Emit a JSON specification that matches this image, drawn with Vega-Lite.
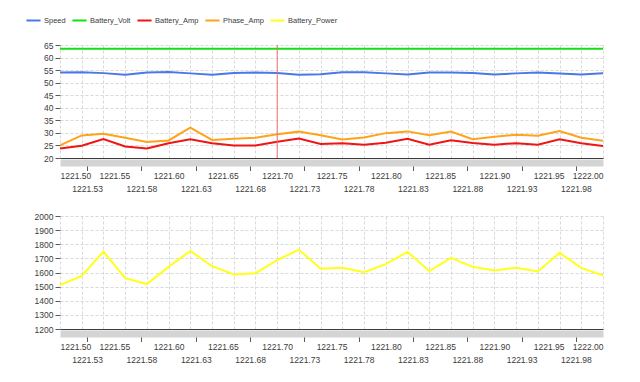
{
  "$schema": "https://vega.github.io/schema/vega-lite/v6.json",
  "padding": {"left": 25, "top": 12, "right": 5, "bottom": 5},
  "background": "white",
  "spacing": 19,
  "config": {
    "view": {"stroke": null},
    "font": "Liberation Sans",
    "axis": {"labelFont": "Liberation Sans", "labelFontSize": 8.5, "labelColor": "#3c3c3c", "title": null, "gridWidth": 1, "tickColor": "#5a5a5a", "domainColor": "#3c3c3c"},
    "legend": {"orient": "none", "legendX": -35, "legendY": -33, "direction": "horizontal", "columns": 5, "gridAlign": "none", "symbolType": "stroke", "symbolSize": 200, "symbolStrokeWidth": 2, "labelFont": "Liberation Sans", "labelFontSize": 7.5, "labelColor": "#3c3c3c", "columnPadding": 2, "labelOffset": 2, "title": null}
  },
  "datasets": {
    "d": [
      {"t": 1221.50, "Speed": 54.0, "Battery_Volt": 63.5, "Battery_Amp": 23.8, "Phase_Amp": 25.0, "Battery_Power": 1511},
      {"t": 1221.52, "Speed": 54.1, "Battery_Volt": 63.5, "Battery_Amp": 24.9, "Phase_Amp": 29.0, "Battery_Power": 1576},
      {"t": 1221.54, "Speed": 53.8, "Battery_Volt": 63.5, "Battery_Amp": 27.5, "Phase_Amp": 29.7, "Battery_Power": 1748},
      {"t": 1221.56, "Speed": 53.2, "Battery_Volt": 63.5, "Battery_Amp": 24.6, "Phase_Amp": 28.1, "Battery_Power": 1560},
      {"t": 1221.58, "Speed": 54.0, "Battery_Volt": 63.5, "Battery_Amp": 23.8, "Phase_Amp": 26.4, "Battery_Power": 1518},
      {"t": 1221.60, "Speed": 54.2, "Battery_Volt": 63.5, "Battery_Amp": 25.9, "Phase_Amp": 27.0, "Battery_Power": 1640},
      {"t": 1221.62, "Speed": 53.7, "Battery_Volt": 63.5, "Battery_Amp": 27.5, "Phase_Amp": 32.1, "Battery_Power": 1753},
      {"t": 1221.64, "Speed": 53.2, "Battery_Volt": 63.5, "Battery_Amp": 25.9, "Phase_Amp": 27.2, "Battery_Power": 1645},
      {"t": 1221.66, "Speed": 53.8, "Battery_Volt": 63.5, "Battery_Amp": 25.0, "Phase_Amp": 27.7, "Battery_Power": 1586},
      {"t": 1221.68, "Speed": 54.0, "Battery_Volt": 63.5, "Battery_Amp": 25.0, "Phase_Amp": 28.1, "Battery_Power": 1595},
      {"t": 1221.70, "Speed": 53.8, "Battery_Volt": 63.5, "Battery_Amp": 26.5, "Phase_Amp": 29.5, "Battery_Power": 1687},
      {"t": 1221.72, "Speed": 53.2, "Battery_Volt": 63.5, "Battery_Amp": 27.8, "Phase_Amp": 30.5, "Battery_Power": 1762},
      {"t": 1221.74, "Speed": 53.4, "Battery_Volt": 63.5, "Battery_Amp": 25.6, "Phase_Amp": 29.1, "Battery_Power": 1626},
      {"t": 1221.76, "Speed": 54.1, "Battery_Volt": 63.5, "Battery_Amp": 25.9, "Phase_Amp": 27.4, "Battery_Power": 1633},
      {"t": 1221.78, "Speed": 54.1, "Battery_Volt": 63.5, "Battery_Amp": 25.3, "Phase_Amp": 28.2, "Battery_Power": 1602},
      {"t": 1221.80, "Speed": 53.7, "Battery_Volt": 63.5, "Battery_Amp": 26.1, "Phase_Amp": 29.9, "Battery_Power": 1659},
      {"t": 1221.82, "Speed": 53.3, "Battery_Volt": 63.5, "Battery_Amp": 27.7, "Phase_Amp": 30.6, "Battery_Power": 1746},
      {"t": 1221.84, "Speed": 54.0, "Battery_Volt": 63.5, "Battery_Amp": 25.3, "Phase_Amp": 29.1, "Battery_Power": 1610},
      {"t": 1221.86, "Speed": 54.0, "Battery_Volt": 63.5, "Battery_Amp": 27.1, "Phase_Amp": 30.5, "Battery_Power": 1704},
      {"t": 1221.88, "Speed": 53.8, "Battery_Volt": 63.5, "Battery_Amp": 26.0, "Phase_Amp": 27.5, "Battery_Power": 1640},
      {"t": 1221.90, "Speed": 53.3, "Battery_Volt": 63.5, "Battery_Amp": 25.3, "Phase_Amp": 28.5, "Battery_Power": 1614},
      {"t": 1221.92, "Speed": 53.7, "Battery_Volt": 63.5, "Battery_Amp": 25.9, "Phase_Amp": 29.3, "Battery_Power": 1633},
      {"t": 1221.94, "Speed": 54.0, "Battery_Volt": 63.5, "Battery_Amp": 25.3, "Phase_Amp": 28.9, "Battery_Power": 1607},
      {"t": 1221.96, "Speed": 53.7, "Battery_Volt": 63.5, "Battery_Amp": 27.5, "Phase_Amp": 30.7, "Battery_Power": 1739},
      {"t": 1221.98, "Speed": 53.3, "Battery_Volt": 63.5, "Battery_Amp": 25.9, "Phase_Amp": 28.1, "Battery_Power": 1633},
      {"t": 1222.00, "Speed": 53.8, "Battery_Volt": 63.5, "Battery_Amp": 24.8, "Phase_Amp": 26.9, "Battery_Power": 1579}
    ],
    "cursor": [{"t": 1221.70}]
  },
  "vconcat": [
    {
      "width": 543,
      "height": 113,
      "encoding": {
        "x": {"field": "t", "type": "quantitative", "scale": {"domain": [1221.5, 1222.0], "nice": false, "zero": false},
          "axis": {
            "values": [1221.5, 1221.52, 1221.525, 1221.54, 1221.55, 1221.56, 1221.575, 1221.58, 1221.6, 1221.62, 1221.625, 1221.64, 1221.65, 1221.66, 1221.675, 1221.68, 1221.7, 1221.72, 1221.725, 1221.74, 1221.75, 1221.76, 1221.775, 1221.78, 1221.8, 1221.82, 1221.825, 1221.84, 1221.85, 1221.86, 1221.875, 1221.88, 1221.9, 1221.92, 1221.925, 1221.94, 1221.95, 1221.96, 1221.975, 1221.98, 1222.0],
            "labelExpr": "abs(datum.value*40 - round(datum.value*40)) < 0.01 ? (round(datum.value*40) % 2 == 1 ? format(datum.value + 0.001, '.2f') : format(datum.value, '.2f')) : ''",
            "labelOverlap": false,
            "labelBound": false,
            "grid": true,
            "gridColor": "#d9d9d9",
            "gridDash": [3, 2],
            "gridOpacity": {"condition": {"test": "abs(datum.value*50 - round(datum.value*50)) < 0.01", "value": 1}, "value": 0},
            "ticks": true,
            "tickSize": {"condition": {"test": "abs(datum.value*40 - round(datum.value*40)) < 0.01 && round(datum.value*40) % 2 == 1", "value": 8}, "value": 0},
            "labelPadding": {"condition": {"test": "abs(datum.value*40 - round(datum.value*40)) < 0.01 && round(datum.value*40) % 2 == 1", "value": 14}, "value": 9},
            "domain": true,
            "domainColor": "#d4d4d4",
            "domainWidth": 7,
            "offset": 4.5
          }}
      },
      "layer": [
        {
          "data": {"name": "d"},
          "transform": [{"fold": ["Speed", "Battery_Volt", "Battery_Amp", "Phase_Amp"], "as": ["s", "v"]}],
          "mark": {"type": "line", "strokeWidth": 2, "clip": true},
          "encoding": {
            "y": {"field": "v", "type": "quantitative", "scale": {"domain": [20, 65], "nice": false, "zero": false},
              "axis": {"values": [20, 25, 30, 35, 40, 45, 50, 55, 60, 65], "format": "d", "grid": true, "domain": false, "tickSize": 5, "labelPadding": 2,
                "gridColor": {"condition": {"test": "datum.value == 20", "value": "#3c3c3c"}, "value": "#d9d9d9"},
                "gridDash": {"condition": {"test": "datum.value == 20", "value": []}, "value": [3, 2]}}},
            "color": {"field": "s", "type": "nominal",
              "scale": {"domain": ["Speed", "Battery_Volt", "Battery_Amp", "Phase_Amp", "Battery_Power"], "range": ["#4a78e8", "#12e012", "#f01414", "#ffa31a", "#ffff1a"]}},
            "order": {"field": "t", "type": "quantitative"}
          }
        },
        {
          "data": {"name": "cursor"},
          "mark": {"type": "rule", "color": "#f07070", "strokeWidth": 1}
        }
      ]
    },
    {
      "width": 543,
      "height": 113,
      "data": {"name": "d"},
      "transform": [{"fold": ["Battery_Power"], "as": ["s", "v"]}],
      "mark": {"type": "line", "strokeWidth": 2, "clip": true},
      "encoding": {
        "x": {"field": "t", "type": "quantitative", "scale": {"domain": [1221.5, 1222.0], "nice": false, "zero": false},
          "axis": {
            "values": [1221.5, 1221.52, 1221.525, 1221.54, 1221.55, 1221.56, 1221.575, 1221.58, 1221.6, 1221.62, 1221.625, 1221.64, 1221.65, 1221.66, 1221.675, 1221.68, 1221.7, 1221.72, 1221.725, 1221.74, 1221.75, 1221.76, 1221.775, 1221.78, 1221.8, 1221.82, 1221.825, 1221.84, 1221.85, 1221.86, 1221.875, 1221.88, 1221.9, 1221.92, 1221.925, 1221.94, 1221.95, 1221.96, 1221.975, 1221.98, 1222.0],
            "labelExpr": "abs(datum.value*40 - round(datum.value*40)) < 0.01 ? (round(datum.value*40) % 2 == 1 ? format(datum.value + 0.001, '.2f') : format(datum.value, '.2f')) : ''",
            "labelOverlap": false,
            "labelBound": false,
            "grid": true,
            "gridColor": "#d9d9d9",
            "gridDash": [3, 2],
            "gridOpacity": {"condition": {"test": "abs(datum.value*50 - round(datum.value*50)) < 0.01", "value": 1}, "value": 0},
            "ticks": true,
            "tickSize": {"condition": {"test": "abs(datum.value*40 - round(datum.value*40)) < 0.01 && round(datum.value*40) % 2 == 1", "value": 8}, "value": 0},
            "labelPadding": {"condition": {"test": "abs(datum.value*40 - round(datum.value*40)) < 0.01 && round(datum.value*40) % 2 == 1", "value": 14}, "value": 9},
            "domain": true,
            "domainColor": "#d4d4d4",
            "domainWidth": 7,
            "offset": 4.5
          }},
        "y": {"field": "v", "type": "quantitative", "scale": {"domain": [1200, 2000], "nice": false, "zero": false},
          "axis": {"values": [1200, 1300, 1400, 1500, 1600, 1700, 1800, 1900, 2000], "format": "d", "grid": true, "domain": false, "tickSize": 5, "labelPadding": 2,
            "gridColor": {"condition": {"test": "datum.value == 1200", "value": "#3c3c3c"}, "value": "#d9d9d9"},
            "gridDash": {"condition": {"test": "datum.value == 1200", "value": []}, "value": [3, 2]}}},
        "color": {"field": "s", "type": "nominal",
          "scale": {"domain": ["Speed", "Battery_Volt", "Battery_Amp", "Phase_Amp", "Battery_Power"], "range": ["#4a78e8", "#12e012", "#f01414", "#ffa31a", "#ffff1a"]}},
        "order": {"field": "t", "type": "quantitative"}
      }
    }
  ],
  "resolve": {"scale": {"color": "shared"}}
}
